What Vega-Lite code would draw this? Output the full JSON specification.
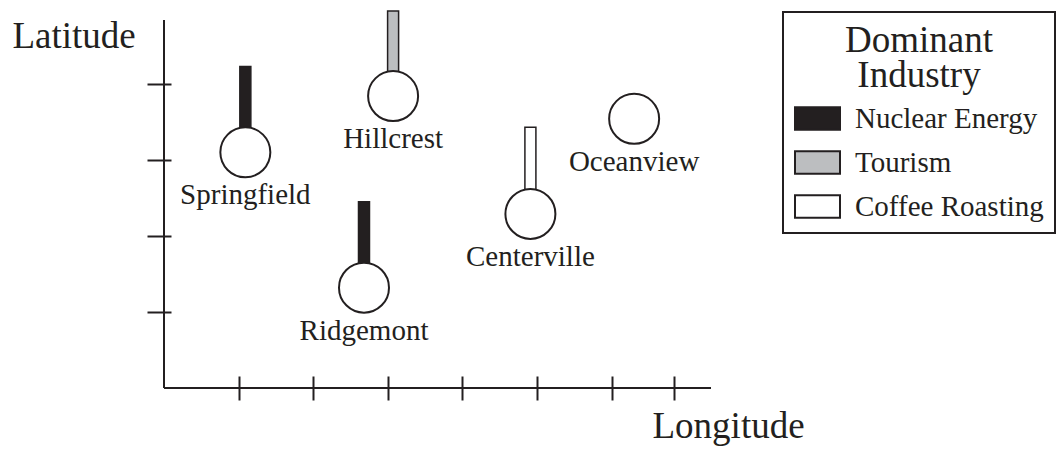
{
  "$schema": "https://vega.github.io/schema/vega-lite/v6.json",
  "width": 557,
  "height": 368,
  "autosize": {"type": "none"},
  "padding": {"left": 159, "top": 20, "right": 341, "bottom": 61},
  "background": "white",
  "config": {
    "view": {"stroke": null},
    "font": "Liberation Serif",
    "axis": {
      "domain": false,
      "labels": false,
      "grid": false,
      "ticks": true,
      "tickSize": 24,
      "tickWidth": 2,
      "tickColor": "#231f20",
      "offset": -12,
      "titleFont": "Liberation Serif",
      "titleFontSize": 37,
      "titleFontWeight": "normal",
      "titleColor": "#231f20",
      "titleAngle": 0,
      "titleAlign": "left",
      "titleBaseline": "alphabetic"
    },
    "legend": {"strokeWidth": 2}
  },
  "datasets": {
    "cities": [
      {"city": "Springfield", "lon": 1.09, "lat": 3.10, "bar_top": 4.23, "industry": "Nuclear Energy"},
      {"city": "Hillcrest", "lon": 3.07, "lat": 3.84, "bar_top": 4.96, "industry": "Tourism"},
      {"city": "Ridgemont", "lon": 2.68, "lat": 1.32, "bar_top": 2.45, "industry": "Nuclear Energy"},
      {"city": "Centerville", "lon": 4.91, "lat": 2.29, "bar_top": 3.43, "industry": "Coffee Roasting"},
      {"city": "Oceanview", "lon": 6.30, "lat": 3.54, "bar_top": null, "industry": null}
    ],
    "axislines": [
      {"x0": 0, "y0": 0, "x1": 0, "y1": 4.84},
      {"x0": 0, "y0": 0, "x1": 7.33, "y1": 0}
    ]
  },
  "layer": [
    {
      "data": {"name": "axislines"},
      "mark": {"type": "rule", "stroke": "#231f20", "strokeWidth": 2},
      "encoding": {
        "x": {"field": "x0", "type": "quantitative", "scale": {"domain": [0, 7.33], "nice": false, "zero": false},
              "axis": {"title": "Longitude", "values": [1, 2, 3, 4, 5, 6, 6.83], "titleX": 493, "titleY": 61}},
        "y": {"field": "y0", "type": "quantitative", "scale": {"domain": [0, 4.84], "nice": false, "zero": false},
              "axis": {"title": "Latitude", "values": [1, 2, 3, 4], "titleX": -159, "titleY": 27}},
        "x2": {"field": "x1"},
        "y2": {"field": "y1"}
      }
    },
    {
      "data": {"name": "cities"},
      "transform": [{"filter": "isValid(datum.industry)"}],
      "mark": {"type": "bar", "size": 11, "stroke": "#231f20", "strokeWidth": 1.5, "opacity": 1},
      "encoding": {
        "x": {"field": "lon", "type": "quantitative"},
        "y": {"field": "lat", "type": "quantitative"},
        "y2": {"field": "bar_top"},
        "color": {
          "field": "industry",
          "type": "nominal",
          "scale": {"domain": ["Nuclear Energy", "Tourism", "Coffee Roasting"], "range": ["#231f20", "#bcbec0", "#ffffff"]},
          "legend": {
            "title": ["Dominant", "Industry"],
            "orient": "none",
            "legendX": 624,
            "legendY": -8,
            "strokeColor": "#231f20",
            "padding": 11,
            "titleFont": "Liberation Serif",
            "titleFontSize": 37,
            "titleFontWeight": "normal",
            "titleColor": "#231f20",
            "titleAnchor": "middle",
            "titleAlign": "center",
            "titleLineHeight": 35,
            "titlePadding": 0,
            "titleLimit": 400,
            "labelFont": "Liberation Serif",
            "labelFontSize": 29,
            "labelColor": "#231f20",
            "labelOffset": 14,
            "labelLimit": 400,
            "symbolType": "M-1,-0.5H1V0.5H-1Z",
            "symbolSize": 2025,
            "symbolStrokeColor": "#231f20",
            "symbolStrokeWidth": 2,
            "symbolOpacity": 1,
            "rowPadding": 5
          }
        }
      }
    },
    {
      "data": {"name": "cities"},
      "mark": {"type": "point", "shape": "circle", "filled": true, "fill": "white", "stroke": "#231f20", "strokeWidth": 2, "size": 2500, "opacity": 1},
      "encoding": {
        "x": {"field": "lon", "type": "quantitative"},
        "y": {"field": "lat", "type": "quantitative"}
      }
    },
    {
      "data": {"name": "cities"},
      "mark": {"type": "text", "font": "Liberation Serif", "fontSize": 29, "color": "#231f20", "align": "center", "baseline": "alphabetic", "dy": 52},
      "encoding": {
        "x": {"field": "lon", "type": "quantitative"},
        "y": {"field": "lat", "type": "quantitative"},
        "text": {"field": "city"}
      }
    }
  ]
}
